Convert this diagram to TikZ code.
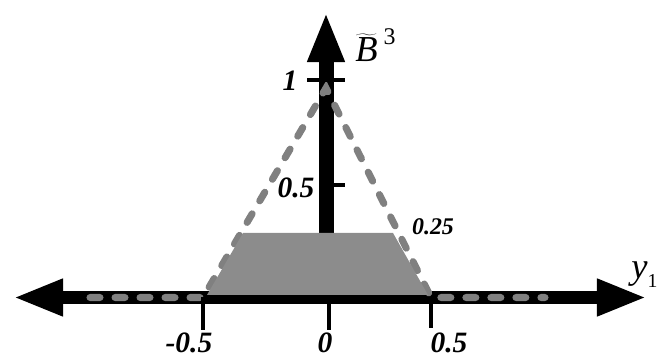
\documentclass[tikz,border=0pt]{standalone}
\usepackage{fontspec}
\setmainfont{Liberation Serif}
\usetikzlibrary{arrows.meta}

\begin{document}
\begin{tikzpicture}[
    x=0.025cm, y=-0.025cm,
    >={Triangle[length=12.5mm,width=8.5mm]},
    axisline/.style={line width=3.25mm},
    vaxisline/.style={line width=3.75mm},
    tickmark/.style={line width=1mm},
    dashline/.style={draw=black!50, line width=1.75mm, line cap=round, dash pattern=on 2.5mm off 3.75mm},
    area/.style={fill=black!45},
    lab/.style={anchor=base, inner sep=0pt, font=\fontsize{21}{21}\selectfont\bfseries\itshape},
    smalllab/.style={anchor=base, inner sep=0pt, font=\fontsize{17}{17}\selectfont\bfseries\itshape}
]
\useasboundingbox (0,0) rectangle (659,360);

% axes
\coordinate (xl) at (13,297.5);
\coordinate (xr) at (647,297.5);
\coordinate (yb) at (326,245);
\coordinate (yt) at (326,12);
\draw[axisline, <->] (xl) -- (xr);
\draw[vaxisline, ->] (yb) -- (yt);

% dashed triangle
\coordinate (m) at (203,297.5);
\coordinate (o) at (329,297.5);
\coordinate (p) at (431,297.5);
\coordinate (apex) at (326,88);
\draw[dashline] (90,297.5) -- (m) -- (apex) -- (p) -- (545,297.5);

% trapezoid
\fill[area] (207,295) -- (243,233) -- (393,233) -- (428,295) -- cycle;

% ticks
\draw[tickmark] (m) -- ++(0,33);
\draw[tickmark] (o) -- ++(0,33);
\draw[tickmark] (p) -- ++(0,31);
\draw[tickmark] (307,80) -- (345,80);
\draw[tickmark] (326,185) -- (345,185);

% labels
\node[lab] (one) at (290,91) {1};
\node[lab] (half) at (296,198) {0.5};
\node[smalllab] (quarter) at (433,235) {0.25};
\node[lab] (mhalf) at (189,353) {-0.5};
\node[lab] (zero) at (325,353) {0};
\node[lab] (phalf) at (449,353) {0.5};
\node[anchor=base west, inner sep=0pt] (btilde) at (355,62)
  {\fontsize{26}{26}\selectfont$\widetilde{\textit{B}}$\hspace{1.5mm}\fontsize{17}{17}\selectfont\raisebox{4.25mm}{3}};
\node[anchor=base west, inner sep=0pt] (yone) at (631,279)
  {\fontsize{26}{26}\selectfont\itshape y\fontsize{14}{14}\selectfont\upshape\raisebox{-2mm}{1}};

\end{tikzpicture}
\end{document}
